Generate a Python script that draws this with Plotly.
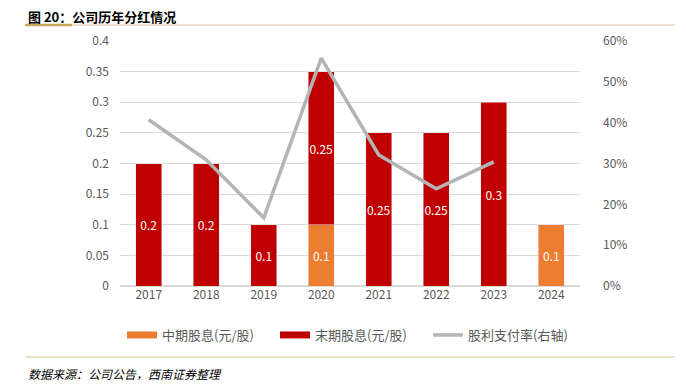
import plotly.graph_objects as go

years = ["2017", "2018", "2019", "2020", "2021", "2022", "2023", "2024"]
interim = [None, None, None, 0.1, None, None, None, 0.1]
final = [0.2, 0.2, 0.1, 0.25, 0.25, 0.25, 0.3, None]
payout = [0.407, 0.309, 0.167, 0.558, 0.321, 0.238, 0.304, None]
left_ticks = [0, 0.05, 0.1, 0.15, 0.2, 0.25, 0.3, 0.35, 0.4]
left_labels = ["0", "0.05", "0.1", "0.15", "0.2", "0.25", "0.3", "0.35", "0.4"]

font_cjk = "Noto Sans CJK SC, Noto Sans, sans-serif"
gray = "#595959"
c_interim = "#ED7D31"
c_final = "#C00000"
c_line = "#B4B4B4"

fig = go.Figure()
fig.add_trace(go.Bar(
    x=years, y=interim, name="中期股息(元/股)", showlegend=False,
    marker=dict(color=c_interim),
    text=[("%g" % v) if v is not None else "" for v in interim],
    textposition="inside", insidetextanchor="middle", textangle=0, constraintext="none",
    textfont=dict(color="white", size=12), width=0.45,
))
fig.add_trace(go.Bar(
    x=years, y=final, name="末期股息(元/股)", showlegend=False,
    marker=dict(color=c_final),
    text=[("%g" % v) if v is not None else "" for v in final],
    textposition="inside", insidetextanchor="middle", textangle=0, constraintext="none",
    textfont=dict(color="white", size=12), width=0.45,
))
fig.add_trace(go.Scatter(
    x=years, y=payout, name="股利支付率(右轴)", yaxis="y2", showlegend=False,
    mode="lines", line=dict(color=c_line, width=3.5),
))
# legend entries (wide rectangle swatches like the original)
for name, col, w in [("中期股息(元/股)", c_interim, 7), ("末期股息(元/股)", c_final, 7),
                     ("股利支付率(右轴)", c_line, 3.5)]:
    fig.add_trace(go.Scatter(x=[None], y=[None], name=name, mode="lines",
                             line=dict(color=col, width=w), showlegend=True))

# page has an 8px body margin, so the figure is 8px smaller and shifted
fig.update_layout(
    width=678, height=378,
    margin=dict(l=112, r=106, t=33, b=100, autoexpand=False),
    paper_bgcolor="white", plot_bgcolor="white",
    barmode="stack",
    font=dict(family=font_cjk, size=12, color=gray),
    showlegend=True,
    legend=dict(orientation="h", x=(122 - 120) / 460, xanchor="left",
                y=-(335 - 286) / 245, yanchor="middle",
                font=dict(size=13, color=gray), itemwidth=30, entrywidth=108,
                traceorder="normal"),
    uniformtext=dict(mode=False),
    xaxis=dict(type="category", showline=False, ticks="", tickfont=dict(size=12, color=gray)),
    yaxis=dict(range=[0, 0.4], tickvals=left_ticks, ticktext=left_labels, showgrid=True,
               gridcolor="#D9D9D9", zeroline=True, zerolinecolor="#D9D9D9",
               tickfont=dict(size=12, color=gray), ticklabelstandoff=10),
    yaxis2=dict(range=[0, 0.6], dtick=0.1, overlaying="y", side="right",
                tickformat=".0%", showgrid=False, zeroline=False,
                tickfont=dict(size=12, color=gray), ticklabelstandoff=22),
)

def px_x(x):
    return (x - 120) / 460

def px_y(y):
    return (286 - y) / 245

fig.add_annotation(text="<b>图 20：公司历年分红情况</b>", xref="paper", yref="paper",
                   x=px_x(26), y=px_y(16), xanchor="left", yanchor="middle",
                   showarrow=False, font=dict(size=13, color="black", family=font_cjk))
fig.add_annotation(text="<i>数据来源：公司公告，西南证券整理</i>", xref="paper", yref="paper",
                   x=px_x(26), y=px_y(373), xanchor="left", yanchor="middle",
                   showarrow=False, font=dict(size=12, color="black", family=font_cjk))

fig.add_shape(type="line", xref="paper", yref="paper", x0=px_x(25), x1=px_x(675),
              y0=px_y(25), y1=px_y(25), line=dict(color="#DCC79B", width=1.2))
fig.add_shape(type="line", xref="paper", yref="paper", x0=px_x(25), x1=px_x(72),
              y0=px_y(25), y1=px_y(25), line=dict(color="#C9A45C", width=2.5))
fig.add_shape(type="line", xref="paper", yref="paper", x0=px_x(25), x1=px_x(675),
              y0=px_y(357), y1=px_y(357), line=dict(color="#DCC79B", width=1.2))

fig.write_html("out.html")
